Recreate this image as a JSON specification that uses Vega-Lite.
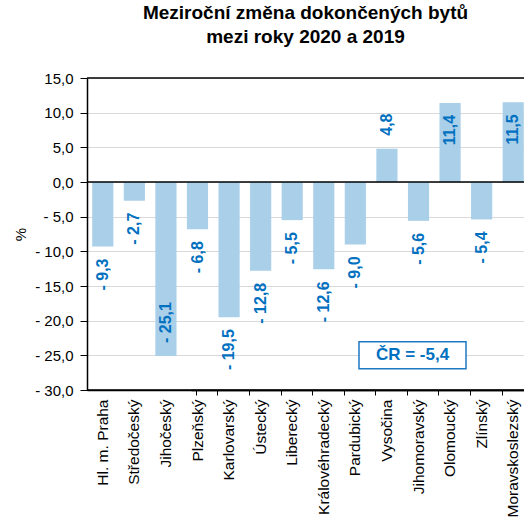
{
  "$schema": "https://vega.github.io/schema/vega-lite/v6.json",
  "autosize": "none",
  "padding": {"left": 87, "top": 78, "right": 0, "bottom": 141},
  "width": 437,
  "height": 312,
  "background": "white",
  "config": {
    "font": "Liberation Sans",
    "view": {"stroke": null},
    "locale": {"number": {"decimal": ",", "thousands": " ", "grouping": [3], "currency": ["", ""], "minus": "- "}},
    "axisY": {
      "tickCount": 10,
      "format": ".1f",
      "labelOverlap": false,
      "titleFontSize": 15, "titleFontWeight": "normal", "titleColor": "black",
      "titlePadding": 6,
      "labelFontSize": 15, "labelColor": "black", "labelPadding": 7,
      "domainColor": "black", "domainWidth": 1.5,
      "tickColor": "black", "tickSize": 7,
      "gridColor": "#d9d9d9", "gridWidth": 1.2
    }
  },
  "title": {
    "text": ["Meziroční změna dokončených bytů", "mezi roky 2020 a 2019"],
    "fontSize": 19,
    "fontWeight": "bold",
    "color": "black",
    "anchor": "middle",
    "frame": "group",
    "lineHeight": 24,
    "offset": 24
  },
  "datasets": {
    "regions": [
      {"region": "Hl. m. Praha", "v": -9.3},
      {"region": "Středočeský", "v": -2.7},
      {"region": "Jihočeský", "v": -25.1},
      {"region": "Plzeňský", "v": -6.8},
      {"region": "Karlovarský", "v": -19.5},
      {"region": "Ústecký", "v": -12.8},
      {"region": "Liberecký", "v": -5.5},
      {"region": "Královéhradecký", "v": -12.6},
      {"region": "Pardubický", "v": -9.0},
      {"region": "Vysočina", "v": 4.8},
      {"region": "Jihomoravský", "v": -5.6},
      {"region": "Olomoucký", "v": 11.4},
      {"region": "Zlínský", "v": -5.4},
      {"region": "Moravskoslezský", "v": 11.5}
    ],
    "box": [{"region": "Jihomoravský", "v": -25.0, "label": "ČR = -5,4"}],
    "lines": [{"v": 0}, {"v": 15}, {"v": -30}]
  },
  "resolve": {"axis": {"x": "independent"}},
  "layer": [
    {
      "data": {"name": "regions"},
      "mark": {"type": "bar", "color": "#a9cfe9"},
      "encoding": {
        "x": {
          "field": "region", "type": "nominal", "sort": null,
          "scale": {"range": [0, 442], "paddingInner": 0.33, "paddingOuter": 0.165},
          "axis": {
            "orient": "bottom", "title": null, "ticks": false, "zindex": 2,
            "domainColor": "black", "domainWidth": 1.5,
            "labelAngle": 270, "labelAlign": "right", "labelBaseline": "middle",
            "labelPadding": 9, "labelFontSize": 15.5, "labelColor": "black", "labelLimit": 0
          }
        },
        "y": {
          "field": "v", "type": "quantitative", "title": "%",
          "scale": {"domain": [-30, 15], "nice": false, "zero": false}
        }
      }
    },
    {
      "data": {"name": "lines"},
      "mark": {"type": "rule", "color": "black", "strokeWidth": 1.5},
      "encoding": {
        "y": {"field": "v", "type": "quantitative", "title": "%"}
      }
    },
    {
      "data": {"name": "regions"},
      "mark": {
        "type": "text",
        "angle": 270,
        "baseline": "middle",
        "fontSize": 16,
        "fontWeight": "bold",
        "color": "#0070c0",
        "align": {"expr": "((datum.v < 0) == !(datum.v < -22 || datum.v > 8)) ? 'right' : 'left'"},
        "dx": {"expr": "((datum.v < 0) == !(datum.v < -22 || datum.v > 8)) ? -12 : 13"}
      },
      "encoding": {
        "x": {
          "field": "region", "type": "nominal", "sort": null,
          "axis": {"orient": "bottom", "zindex": 2, "position": 104, "title": null, "labels": false, "ticks": true, "tickBand": "extent", "tickColor": "black", "tickSize": 5, "domainColor": "black", "domainWidth": 1.5, "grid": false}
        },
        "y": {"field": "v", "type": "quantitative", "title": "%"},
        "text": {"field": "v", "type": "quantitative", "format": ".1f"}
      }
    },
    {
      "data": {"name": "box"},
      "mark": {
        "type": "point",
        "shape": "M-1,-0.252L1,-0.252L1,0.252L-1,0.252Z",
        "size": 11449,
        "filled": true,
        "fill": "white",
        "stroke": "#1f78c1",
        "strokeWidth": 1.5,
        "opacity": 1,
        "xOffset": -6
      },
      "encoding": {
        "x": {"field": "region", "type": "nominal", "sort": null, "axis": null},
        "y": {"field": "v", "type": "quantitative", "title": "%"}
      }
    },
    {
      "data": {"name": "box"},
      "mark": {"type": "text", "fontSize": 17, "fontWeight": "bold", "color": "#0070c0", "xOffset": -6, "baseline": "middle", "align": "center"},
      "encoding": {
        "x": {"field": "region", "type": "nominal", "sort": null, "axis": null},
        "y": {"field": "v", "type": "quantitative", "title": "%"},
        "text": {"field": "label"}
      }
    }
  ]
}
